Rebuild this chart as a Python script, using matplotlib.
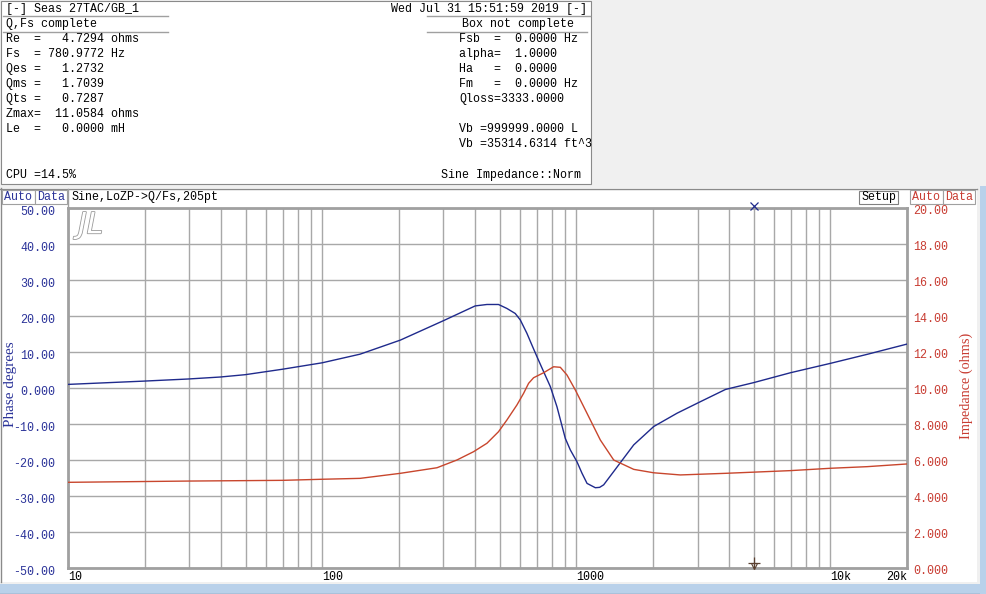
import matplotlib
matplotlib.use('Agg')
import matplotlib.pyplot as plt
from matplotlib.patches import Rectangle
from matplotlib.lines import Line2D
from matplotlib.ticker import LogLocator, NullFormatter
import matplotlib.patheffects as pe
import matplotlib.transforms as mtransforms

plt.rcParams['font.family'] = 'Liberation Mono'
plt.rcParams['font.size'] = 8.4

W, H = 986, 594
SERIF = 'Liberation Serif'
BLUE = '#1f2a8c'
BLUE_TXT = '#2b3399'
RED = '#c8462d'
RED_TXT = '#c83c32'
GRID = '#a8a8a8'
FRAME = '#a0a0a0'

freq_phase = [10, 19.7, 29.7, 39.7, 49.8, 69.6, 100, 141, 203, 300, 400, 445,
              494, 533, 575, 602, 639, 669, 700, 744, 790, 839, 905, 947,
              1006, 1053, 1102, 1188, 1235, 1281, 1403, 1682, 2016, 2491,
              3077, 3863, 4990, 6968, 10000, 13940, 20000]
phase = [1.0, 1.9, 2.5, 3.05, 3.7, 5.2, 7.0, 9.4, 13.3, 18.7, 22.8, 23.2,
         23.2, 22.1, 20.7, 18.9, 15.2, 11.9, 8.7, 4.5, 0.4, -5.2, -14.0,
         -17.2, -20.5, -23.7, -26.5, -27.7, -27.6, -26.9, -23.2, -15.8,
         -10.7, -7.0, -3.8, -0.4, 1.5, 4.25, 6.85, 9.35, 12.2]

freq_z = [10, 29.7, 70, 100, 141, 203, 283, 339, 394, 445, 494, 533, 584, 620,
          649, 679, 744, 814, 865, 919, 991, 1102, 1243, 1403, 1682, 2015,
          2565, 3863, 6968, 10000, 13940, 20000]
impedance = [4.76, 4.83, 4.87, 4.93, 4.98, 5.26, 5.57, 6.0, 6.46, 6.93, 7.57,
             8.22, 9.06, 9.7, 10.26, 10.57, 10.85, 11.18, 11.15, 10.72, 9.89,
             8.59, 7.11, 6.0, 5.48, 5.29, 5.17, 5.26, 5.41, 5.54, 5.63, 5.78]

x_ticks = [10, 100, 1000, 10000, 20000]
x_labels = ['10', '100', '1000', '10k', '20k']
phase_ticks = [50, 40, 30, 20, 10, 0, -10, -20, -30, -40, -50]
phase_labels = ['50.00', '40.00', '30.00', '20.00', '10.00', '0.000',
                '-10.00', '-20.00', '-30.00', '-40.00', '-50.00']
z_ticks = [20, 18, 16, 14, 12, 10, 8, 6, 4, 2, 0]
z_labels = ['20.00', '18.00', '16.00', '14.00', '12.00', '10.00',
            '8.000', '6.000', '4.000', '2.000', '0.000']
cursor_freq = 4990

title_left = '[-] Seas 27TAC/GB_1'
title_right = 'Wed Jul 31 15:51:59 2019 [-]'
status_left = 'Q,Fs complete'
status_right = 'Box not complete'
params_left = ['Re  =   4.7294 ohms', 'Fs  = 780.9772 Hz', 'Qes =   1.2732',
               'Qms =   1.7039', 'Qts =   0.7287', 'Zmax=  11.0584 ohms',
               'Le  =   0.0000 mH']
params_right = ['Fsb  =  0.0000 Hz', 'alpha=  1.0000', 'Ha   =  0.0000',
                'Fm   =  0.0000 Hz', 'Qloss=3333.0000', '',
                'Vb =999999.0000 L', 'Vb =35314.6314 ft^3']

fig = plt.figure(figsize=(W / 100, H / 100), dpi=100, facecolor='#f0f0f0')


def fx(x):
    return x / W


def fy(y):
    return 1 - y / H


def box(x0, y0, x1, y1, fc='white', ec='none', lw=1.0):
    fig.add_artist(Rectangle((fx(x0), fy(y1)), (x1 - x0) / W, (y1 - y0) / H,
                             transform=fig.transFigure, facecolor=fc,
                             edgecolor=ec, linewidth=lw, zorder=-1))


def line(x0, y0, x1, y1, color=FRAME, lw=1.0):
    fig.add_artist(Line2D([fx(x0), fx(x1)], [fy(y0), fy(y1)],
                          transform=fig.transFigure, color=color,
                          linewidth=lw, zorder=-1))


def txt(x, y, s, color='black', ha='left'):
    fig.text(fx(x), fy(y), s, color=color, ha=ha, va='center')


# window frame bits
box(0, 584, 986, 594, fc='#b9d1ea')
line(0, 593.5, 986, 593.5, color='#6f839b')
box(980, 186, 986, 594, fc='#b9d1ea')

# top info panel
box(0.5, 0.5, 591, 183.5, fc='white', ec='#8a8a8a', lw=0.8)
line(3, 16, 168, 16)
line(3, 31.5, 168, 31.5)
line(427, 15.5, 590, 15.5)
line(427, 31.5, 587, 31.5)
txt(6, 9, title_left)
txt(587, 9, title_right, ha='right')
txt(6, 24, status_left)
txt(462, 24, status_right)
for i, s in enumerate(params_left):
    txt(6, 39 + 15 * i, s)
for i, s in enumerate(params_right):
    txt(459, 39 + 15 * i, s)
txt(6, 175, 'CPU =14.5%')
txt(581, 175, 'Sine Impedance::Norm', ha='right')

# lower graph panel
box(0, 188, 977, 582, fc='white')
line(0, 188.5, 977, 188.5, color='#8a8a8a')
line(0.8, 188, 0.8, 582, color='#8a8a8a')
box(2, 190, 35, 204, ec=FRAME, lw=0.8)
box(35, 190, 67, 204, ec=FRAME, lw=0.8)
line(67.5, 189, 67.5, 207)
box(859, 191, 898, 204, ec='#808080', lw=0.8)
box(910, 190, 943, 204, ec=FRAME, lw=0.8)
box(943, 190, 975, 204, ec=FRAME, lw=0.8)
txt(4, 197, 'Auto', BLUE_TXT)
txt(37, 197, 'Data', BLUE_TXT)
txt(71, 197, 'Sine,LoZP->Q/Fs,205pt')
txt(878.5, 197, 'Setup', ha='center')
txt(912, 197, 'Auto', RED_TXT)
txt(945, 197, 'Data', RED_TXT)

fig.text(fx(11), fy(384), 'Phase degrees', rotation=90, color=BLUE_TXT,
         family=SERIF, fontsize=11, ha='center', va='center')
fig.text(fx(966), fy(386), 'Impedance (ohms)', rotation=90, color=RED_TXT,
         family=SERIF, fontsize=10.3, ha='center', va='center')

# the plot itself
ax = fig.add_axes([fx(68), fy(568), (907 - 68) / W, (568 - 208) / H])
ax.set_facecolor('white')
ax.set_xscale('log')
ax.set_xlim(10, 20000)
ax.set_ylim(-50, 50)
ax.plot(freq_phase, phase, color=BLUE, lw=1.0, zorder=3)

ax.set_xticks(x_ticks)
ax.set_xticklabels(x_labels)
ax.xaxis.set_minor_locator(LogLocator(base=10, subs=range(2, 10), numticks=20))
ax.xaxis.set_minor_formatter(NullFormatter())
xl = ax.get_xticklabels()
for lbl in xl[:-1]:
    lbl.set_ha('left')
xl[-1].set_ha('right')
ax.set_yticks(phase_ticks)
ax.set_yticklabels(phase_labels)

ax.grid(True, which='both', axis='x', color=GRID, lw=1.0)
ax.grid(True, which='major', axis='y', color=GRID, lw=1.0)
ax.tick_params(which='both', length=0)
ax.tick_params(axis='x', pad=2.5, labelcolor='black')
ax.tick_params(axis='y', pad=9, labelcolor=BLUE_TXT)
for sp in ax.spines.values():
    sp.set_color(FRAME)
    sp.set_linewidth(2.0)

ax.text(0.027, 0.952, 'JL', transform=ax.transAxes, fontsize=21,
        style='italic', family='DejaVu Sans', color='white', ha='center',
        va='center', zorder=4,
        path_effects=[pe.withStroke(linewidth=1.2, foreground='#9a9a9a')])

# cursor markers
ax.plot([cursor_freq], [50.6], marker='x', color=BLUE, ms=6, mew=0.9,
        clip_on=False, zorder=6)
ax.plot([cursor_freq], [-48.6], marker='+', color='#5a4030', ms=8, mew=0.9,
        clip_on=False, zorder=6)
ax.plot([cursor_freq], [-49.5], marker='v', mfc='none', mec='#5a4030', ms=4,
        mew=0.8, clip_on=False, zorder=6)

ax2 = ax.twinx()
ax2.set_ylim(0, 20)
ax2.plot(freq_z, impedance, color=RED, lw=1.0, zorder=3)
ax2.set_yticks(z_ticks)
ax2.set_yticklabels(z_labels)
ax2.tick_params(which='both', length=0)
ax2.tick_params(axis='y', pad=4.3, labelcolor=RED_TXT)
for sp in ax2.spines.values():
    sp.set_visible(False)

# the screen labels sit a little below their grid lines
down_l = mtransforms.ScaledTranslation(0, -2.5 / 100, fig.dpi_scale_trans)
down_r = mtransforms.ScaledTranslation(0, -1.5 / 100, fig.dpi_scale_trans)
for lbl in ax.get_yticklabels():
    lbl.set_transform(lbl.get_transform() + down_l)
for lbl in ax2.get_yticklabels():
    lbl.set_transform(lbl.get_transform() + down_r)

fig.savefig('out.png', dpi=100, facecolor=fig.get_facecolor())
